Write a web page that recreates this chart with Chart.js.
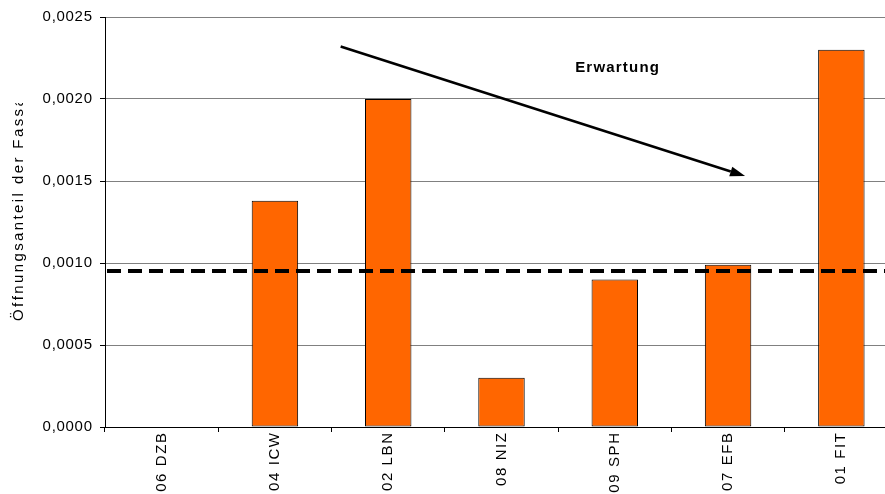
<!DOCTYPE html>
<html>
<head>
<meta charset="utf-8">
<script src="https://cdn.jsdelivr.net/npm/chart.js@4.4.1/dist/chart.umd.min.js"></script>
<style>
  html, body { margin: 0; padding: 0; overflow: hidden; background: #ffffff; }
  #wrap { width: 898px; height: 494px; }
</style>
</head>
<body>
<div id="wrap"><canvas id="c"></canvas></div>
<script>
// Kategorien und Messwerte
const categories = ['06 DZB', '04 ICW', '02 LBN', '08 NIZ', '09 SPH', '07 EFB', '01 FIT'];
const openingShare = [0, 0.00138, 0.0020, 0.0003, 0.0009, 0.00099, 0.0023];
const yTickValues = [0, 0.0005, 0.0010, 0.0015, 0.0020, 0.0025];
const expectedLevel = 0.00095;

// Trendpfeil "Erwartung" in Datenkoordinaten (Kategorie-Index, Wert)
const arrowFromX = 1.58, arrowFromY = 0.00232;
const arrowToX = 5.15, arrowToY = 0.00153;
const trendLabel = 'Erwartung';
const trendLabelX = 4.02, trendLabelY = 0.00219;

const yTitle = 'Öffnungsanteil der Fassade';

const FONT = '"Liberation Sans", Arial, sans-serif';
const fmt = v => Number(v).toFixed(4).replace('.', ',');

// Text mit Zeichenabstand, zeichenweise gesetzt
function spacedFillText(ctx, rawFill, text, x, y, spacing) {
  const chars = Array.from(String(text));
  const widths = chars.map(c => ctx.measureText(c).width);
  const total = widths.reduce((a, b) => a + b, 0) + spacing * (chars.length - 1);
  const align = ctx.textAlign;
  let start = x;
  if (align === 'right' || align === 'end') start = x - total;
  else if (align === 'center') start = x - total / 2;
  ctx.save();
  ctx.textAlign = 'left';
  let cx = start;
  chars.forEach((c, i) => {
    rawFill.call(ctx, c, cx, y);
    cx += widths[i] + spacing;
  });
  ctx.restore();
}

// Sperrung der Achsenbeschriftungen je Achse
const labelSpacing = { x: 1.6, y: 0.7 };
const spacingPlugin = {
  id: 'spacing',
  beforeDraw(chart) {
    Object.values(chart.scales).forEach(scale => {
      if (scale._spaced) return;
      const orig = scale.drawLabels;
      scale.drawLabels = function (area) {
        const ctx = this.ctx;
        const rawFill = ctx.fillText;
        const sp = labelSpacing[this.id] || 0;
        ctx.fillText = function (t, x, y) { spacedFillText(ctx, rawFill, t, x, y, sp); };
        try { orig.call(this, area); } finally { ctx.fillText = rawFill; }
      };
      scale._spaced = true;
    });
  }
};

const overlayPlugin = {
  id: 'overlay',
  afterDatasetsDraw(chart) {
    const ctx = chart.ctx;
    const xs = chart.scales.x, ys = chart.scales.y, ca = chart.chartArea;

    // gestrichelte Referenzlinie
    ctx.save();
    ctx.strokeStyle = '#000';
    ctx.lineWidth = 4;
    ctx.setLineDash([14, 7]);
    const yl = Math.round(ys.getPixelForValue(expectedLevel));
    ctx.beginPath();
    ctx.moveTo(ca.left + 2, yl);
    ctx.lineTo(ca.right, yl);
    ctx.stroke();
    ctx.restore();

    // Pfeil
    const x1 = xs.getPixelForValue(arrowFromX), y1 = ys.getPixelForValue(arrowFromY);
    const x2 = xs.getPixelForValue(arrowToX), y2 = ys.getPixelForValue(arrowToY);
    const ang = Math.atan2(y2 - y1, x2 - x1);
    const headLen = 15, headW = 5;
    const bx = x2 - headLen * Math.cos(ang), by = y2 - headLen * Math.sin(ang);
    ctx.save();
    ctx.strokeStyle = '#000';
    ctx.fillStyle = '#000';
    ctx.lineWidth = 2.5;
    ctx.beginPath();
    ctx.moveTo(x1, y1);
    ctx.lineTo(bx, by);
    ctx.stroke();
    ctx.beginPath();
    ctx.moveTo(x2, y2);
    ctx.lineTo(bx + headW * Math.sin(ang), by - headW * Math.cos(ang));
    ctx.lineTo(bx - headW * Math.sin(ang), by + headW * Math.cos(ang));
    ctx.closePath();
    ctx.fill();

    // Beschriftung
    ctx.font = 'bold 15px ' + FONT;
    ctx.textAlign = 'center';
    ctx.textBaseline = 'middle';
    spacedFillText(ctx, ctx.fillText, trendLabel, xs.getPixelForValue(trendLabelX), ys.getPixelForValue(trendLabelY), 1.2);
    ctx.restore();
  },
  afterDraw(chart) {
    // Achsentitel, oben abgeschnitten
    const ctx = chart.ctx;
    ctx.save();
    ctx.beginPath();
    ctx.rect(0, 103, 40, chart.height - 103);
    ctx.clip();
    ctx.translate(23, 321);
    ctx.rotate(-Math.PI / 2);
    ctx.font = '15px ' + FONT;
    ctx.fillStyle = '#000';
    ctx.textAlign = 'left';
    ctx.textBaseline = 'alphabetic';
    spacedFillText(ctx, ctx.fillText, yTitle, 0, 0, 2.4);
    ctx.restore();
  }
};

new Chart(document.getElementById('c'), {
  type: 'bar',
  data: {
    labels: categories,
    datasets: [{
      data: openingShare,
      backgroundColor: '#FF6600',
      borderColor: '#000000',
      borderWidth: 1,
      borderSkipped: false,
      categoryPercentage: 1,
      barPercentage: 0.41
    }]
  },
  options: {
    responsive: true,
    maintainAspectRatio: false,
    animation: false,
    layout: { padding: { top: 17, right: 0, bottom: 0, left: 0 } },
    plugins: { legend: { display: false }, tooltip: { enabled: false } },
    scales: {
      x: {
        grid: { display: true, drawOnChartArea: false, offset: true, tickLength: 5, color: '#000', tickColor: '#000' },
        border: { display: true, color: '#000', width: 1 },
        ticks: {
          autoSkip: false, minRotation: 90, maxRotation: 90, padding: 1,
          color: '#000',
          font: { family: FONT, size: 15 }
        },
        afterFit(scale) { scale.height = 67; }
      },
      y: {
        min: 0, max: 0.0025,
        afterBuildTicks(scale) { scale.ticks = yTickValues.map(v => ({ value: v })); },
        grid: { color: '#808080', lineWidth: 1, tickLength: 5, tickColor: '#000', drawTicks: true },
        border: { display: true, color: '#000', width: 1 },
        ticks: {
          padding: 8, color: '#000',
          font: { family: FONT, size: 15 },
          callback: v => fmt(v)
        },
        afterFit(scale) { scale.width = 105; }
      }
    }
  },
  plugins: [spacingPlugin, overlayPlugin]
});
</script>
</body>
</html>
